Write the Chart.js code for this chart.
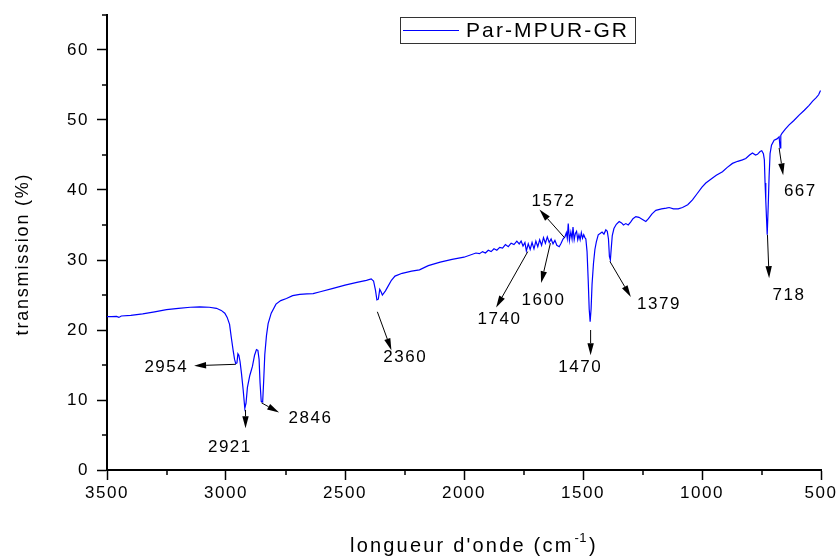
<!DOCTYPE html>
<html><head><meta charset="utf-8">
<script src="https://cdn.jsdelivr.net/npm/chart.js@4.4.1/dist/chart.umd.min.js"></script>
<style>html,body{margin:0;padding:0;background:#fff}#wrap{width:836px;height:556px;position:relative}</style>
</head><body><div id="wrap"><canvas id="c" width="836" height="556"></canvas></div>
<script>
// ---- data (wavenumber in cm-1, transmission in %) ----
const wavenumbers = [
 3500,3480,3460,3450,3440,3400,3350,3300,3250,3200,
 3150,3110,3070,3040,3020,3005,2995,2985,2978,2970,
 2964,2959,2954,2950,2946,2941,2935,2928,2921,2916,
 2910,2900,2889,2880,2872,2866,2861,2857,2852,2846,
 2842,2837,2830,2823,2810,2790,2770,2746,2720,2690,
 2660,2634,2600,2550,2500,2450,2410,2390,2380,2372,
 2366,2360,2354,2349,2343,2330,2320,2305,2290,2260,
 2220,2187,2150,2100,2050,2000,1950,1935,1922,1910,
 1898,1886,1874,1862,1850,1838,1826,1814,1802,1790,
 1778,1768,1760,1752,1744,1738,1730,1722,1714,1706,
 1698,1690,1682,1674,1666,1658,1650,1642,1634,1626,
 1618,1610,1600,1592,1584,1576,1570,1566,1562,1557,
 1551,1546,1542,1537,1532,1527,1522,1517,1512,1507,
 1502,1497,1492,1488,1483,1478,1474,1470,1466,1462,
 1456,1450,1444,1436,1428,1420,1412,1404,1398,1393,
 1389,1385,1381,1377,1370,1360,1348,1338,1330,1320,
 1310,1300,1290,1278,1265,1250,1236,1225,1210,1194,
 1170,1150,1138,1120,1100,1082,1060,1040,1020,1000,
 984,960,940,914,895,872,850,830,816,800,
 788,775,767,756,749,742,738,735,732,729,
 726,722,718,714,708,697,685,676,672,669,
 664,650,634,615,592,570,550,535,520,510,
 505,502
];
const transmission = [
 21.9,21.9,21.95,21.8,22.0,22.1,22.3,22.6,22.9,23.1,
 23.25,23.3,23.25,23.1,22.8,22.4,21.8,20.8,19.0,17.1,
 15.8,15.2,15.3,16.6,16.4,15.5,13.8,11.5,8.8,9.5,
 11.8,13.5,14.8,16.4,17.2,17.1,15.8,12.5,9.8,9.7,
 12.5,16.5,19.2,20.9,22.4,23.7,24.2,24.5,24.9,25.1,
 25.15,25.2,25.5,25.95,26.4,26.8,27.1,27.3,27.0,25.7,
 24.3,24.4,25.8,25.5,25.0,25.6,26.2,27.1,27.7,28.1,
 28.4,28.6,29.2,29.7,30.1,30.4,31.0,30.9,31.2,31.0,
 31.4,31.2,31.6,31.4,31.8,31.7,32.2,31.9,32.4,32.2,
 32.7,32.3,32.7,32.0,32.5,31.3,32.3,31.5,32.5,31.6,
 32.7,31.9,32.9,32.1,33.2,32.4,33.3,32.5,33.0,32.3,
 32.8,32.1,31.9,32.4,33.0,33.3,33.9,33.1,35.2,32.8,
 34.0,33.0,34.7,32.9,33.8,34.1,32.9,33.6,32.9,33.9,
 33.1,33.6,33.2,33.0,31.2,27.0,23.0,21.2,23.0,26.5,
 29.5,31.5,32.6,33.6,33.8,34.0,33.7,34.3,34.1,33.0,
 30.5,30.0,31.8,33.5,34.5,35.1,35.5,35.3,35.0,35.2,
 35.0,35.4,35.9,36.2,36.1,35.8,35.5,35.9,36.6,37.1,
 37.3,37.4,37.5,37.3,37.3,37.5,37.9,38.6,39.5,40.4,
 41.0,41.6,42.1,42.6,43.2,43.8,44.1,44.3,44.5,45.0,
 45.3,45.0,45.1,45.5,45.6,45.2,44.3,41.0,38.5,36.0,
 33.6,37.5,42.0,45.2,46.4,47.1,47.3,47.6,46.0,47.8,
 48.1,48.7,49.3,49.9,50.7,51.4,52.1,52.7,53.2,53.6,
 54.0,54.2
];
const seriesName = 'Par-MPUR-GR';
const xTickStep = 500;
const yTickStep = 10;
const xMinorTicks = [3250,2750,2250,1750,1250,750];
const yMinorTicks = [5,15,25,35,45,55,65];

// peak annotations (data units)
const peakLabels = ['2954','2921','2846','2360','1740','1600','1572','1470','1379','718','667'];
const arrowTailW = [2959,2918,2851,2364,1732,1637,1578,1468,1387,725,676];
const arrowTailT = [15.1,8.6,9.6,22.6,31.2,32.4,33.2,20.0,29.8,33.6,46.0];
const arrowHeadW = [3134,2918,2777,2305,1865,1676,1683,1468,1299,718,659];
const arrowHeadT = [14.9,5.95,8.2,17.1,23.2,26.7,37.2,16.4,24.7,27.4,42.1];
const labelW = [3254,2987,2648,2250,1854,1669,1627,1515,1184,638,590];
const labelT = [14.7,3.3,7.4,16.1,21.5,24.3,38.4,14.7,23.6,25.0,39.8];

const FONT = "'Liberation Sans', Arial, sans-serif";

const spacingPlugin = {
  id: 'spacing',
  beforeDraw(chart){ chart.ctx.letterSpacing = '1.5px'; }
};

function drawArrow(ctx, x1, y1, x2, y2){
  const a = Math.atan2(y2 - y1, x2 - x1);
  const L = 12, H = 3.2;
  const c = Math.cos(a), s = Math.sin(a);
  ctx.beginPath();
  ctx.moveTo(x1, y1);
  ctx.lineTo(x2 - L * c, y2 - L * s);
  ctx.stroke();
  ctx.beginPath();
  ctx.moveTo(x2, y2);
  ctx.lineTo(x2 - L * c + H * s, y2 - L * s - H * c);
  ctx.lineTo(x2 - L * c - H * s, y2 - L * s + H * c);
  ctx.closePath();
  ctx.fill();
}

const annotPlugin = {
  id: 'annot',
  afterDraw(chart){
    const ctx = chart.ctx;
    const xs = chart.scales.x, ys = chart.scales.y;
    const area = chart.chartArea;
    ctx.save();
    ctx.letterSpacing = '0px';
    ctx.strokeStyle = '#000';
    ctx.fillStyle = '#000';
    // minor ticks
    ctx.lineWidth = 1.5;
    xMinorTicks.forEach(w => {
      const px = Math.round(xs.getPixelForValue(w));
      ctx.beginPath(); ctx.moveTo(px, area.bottom); ctx.lineTo(px, area.bottom + 5); ctx.stroke();
    });
    yMinorTicks.forEach(v => {
      const py = Math.round(ys.getPixelForValue(v));
      ctx.beginPath(); ctx.moveTo(area.left, py); ctx.lineTo(area.left - 5, py); ctx.stroke();
    });
    // arrows
    ctx.lineWidth = 1;
    peakLabels.forEach((lab, i) => {
      drawArrow(ctx,
        xs.getPixelForValue(arrowTailW[i]), ys.getPixelForValue(arrowTailT[i]),
        xs.getPixelForValue(arrowHeadW[i]), ys.getPixelForValue(arrowHeadT[i]));
    });
    // labels
    ctx.letterSpacing = '1.5px';
    ctx.font = '17px ' + FONT;
    ctx.textAlign = 'center';
    ctx.textBaseline = 'middle';
    peakLabels.forEach((lab, i) => {
      ctx.fillText(lab, xs.getPixelForValue(labelW[i]) + 0.75, ys.getPixelForValue(labelT[i]));
    });
    // legend
    ctx.letterSpacing = '0px';
    ctx.lineWidth = 1;
    ctx.strokeStyle = '#333';
    ctx.strokeRect(400.5, 17.5, 235, 26);
    ctx.strokeStyle = '#0000ff';
    ctx.lineWidth = 1.2;
    ctx.beginPath(); ctx.moveTo(403, 30.5); ctx.lineTo(459, 30.5); ctx.stroke();
    ctx.letterSpacing = '2.1px';
    ctx.font = '21px ' + FONT;
    ctx.textAlign = 'left';
    ctx.fillStyle = '#000';
    ctx.fillText(seriesName, 466, 31.5);
    // x title
    ctx.letterSpacing = '2.2px';
    ctx.font = '20px ' + FONT;
    ctx.textBaseline = 'alphabetic';
    const main = "longueur d'onde (cm";
    let tx = 350;
    ctx.fillText(main, tx, 552);
    tx += ctx.measureText(main).width;
    ctx.font = '13px ' + FONT;
    ctx.letterSpacing = '0.5px';
    ctx.fillText('-1', tx + 1, 542);
    tx += ctx.measureText('-1').width + 3;
    ctx.font = '20px ' + FONT;
    ctx.letterSpacing = '2.2px';
    ctx.fillText(')', tx, 552);
    // y title
    ctx.save();
    ctx.translate(23, 254);
    ctx.rotate(-Math.PI / 2);
    ctx.font = '18px ' + FONT;
    ctx.letterSpacing = '1.8px';
    ctx.textAlign = 'center';
    ctx.textBaseline = 'middle';
    ctx.fillText('transmission (%)', 0, 0);
    ctx.restore();
    ctx.restore();
  }
};

const tickFont = { family: FONT, size: 17 };
const plainNumber = v => String(v);

new Chart(document.getElementById('c'), {
  type: 'line',
  data: {
    datasets: [{
      label: seriesName,
      data: wavenumbers.map((w, i) => ({ x: w, y: transmission[i] })),
      borderColor: '#0000ff',
      borderWidth: 1.2,
      pointRadius: 0,
      tension: 0,
      fill: false
    }]
  },
  options: {
    responsive: false,
    animation: false,
    devicePixelRatio: 1,
    layout: { padding: { left: 0, right: 15, top: 15, bottom: 0 } },
    plugins: { legend: { display: false }, tooltip: { enabled: false } },
    scales: {
      x: {
        type: 'linear', reverse: true, min: 500, max: 3500,
        ticks: { stepSize: xTickStep, color: '#000', font: tickFont, padding: 3, maxRotation: 0, autoSkip: false, callback: plainNumber },
        grid: { display: true, drawOnChartArea: false, drawTicks: true, tickLength: 10, tickColor: '#000', tickWidth: 1.5 },
        border: { display: true, color: '#000', width: 2 },
        afterFit(s){ s.height = 86; s.paddingLeft = 0; s.paddingRight = 0; }
      },
      y: {
        type: 'linear', min: 0, max: 65,
        ticks: { stepSize: yTickStep, includeBounds: false, color: '#000', font: tickFont, padding: 8, callback: plainNumber },
        grid: { display: true, drawOnChartArea: false, drawTicks: true, tickLength: 10, tickColor: '#000', tickWidth: 1.5 },
        border: { display: true, color: '#000', width: 2 },
        afterFit(s){ s.width = 107; s.paddingTop = 0; s.paddingBottom = 0; }
      }
    }
  },
  plugins: [spacingPlugin, annotPlugin]
});
</script>
</body></html>
